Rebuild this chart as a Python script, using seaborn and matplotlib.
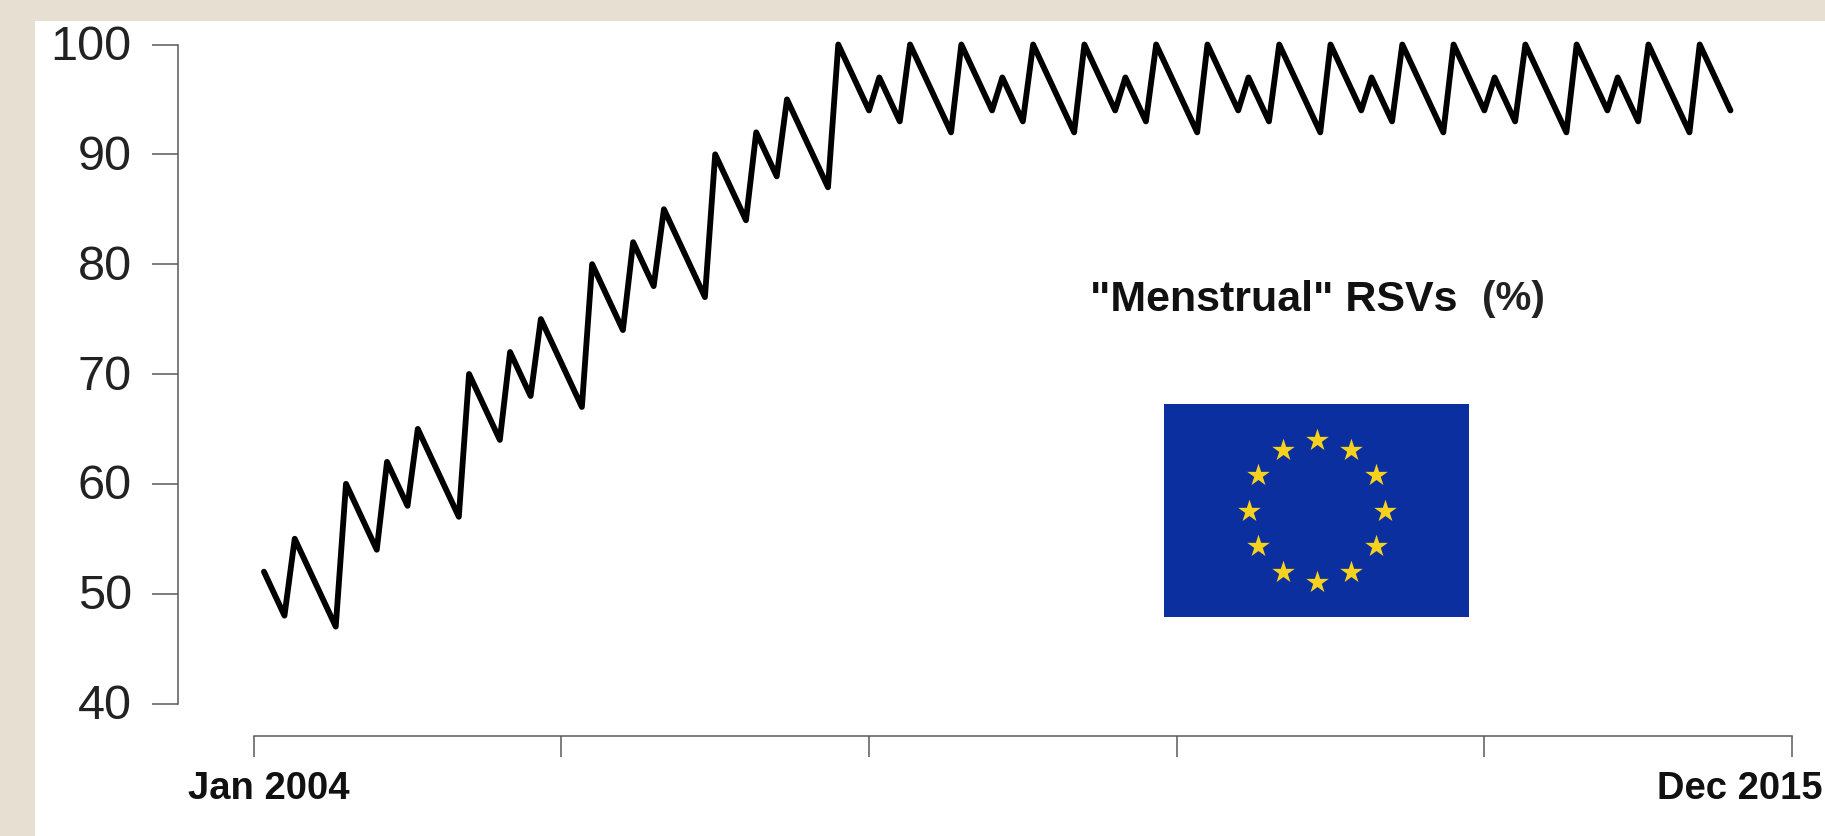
import numpy as np
import pandas as pd
import matplotlib
matplotlib.use("Agg")
import matplotlib.pyplot as plt
from matplotlib.patches import Rectangle
from matplotlib.transforms import ScaledTranslation
import seaborn as sns

months = [1, 3, 4, 8,
          9, 12, 13, 15, 16, 20,
          21, 24, 25, 27, 28, 32,
          33, 36, 37, 39, 40, 44,
          45, 48, 49, 51, 52, 56,
          57, 60, 61, 63, 64, 68,
          69, 72, 73, 75, 76, 80,
          81, 84, 85, 87, 88, 92,
          93, 96, 97, 99, 100, 104,
          105, 108, 109, 111, 112, 116,
          117, 120, 121, 123, 124, 128,
          129, 132, 133, 135, 136, 140,
          141, 144]
rsv_pct = [52, 48, 55, 47,
           60, 54, 62, 58, 65, 57,
           70, 64, 72, 68, 75, 67,
           80, 74, 82, 78, 85, 77,
           90, 84, 92, 88, 95, 87,
           100, 94, 97, 93, 100, 92,
           100, 94, 97, 93, 100, 92,
           100, 94, 97, 93, 100, 92,
           100, 94, 97, 93, 100, 92,
           100, 94, 97, 93, 100, 92,
           100, 94, 97, 93, 100, 92,
           100, 94, 97, 93, 100, 92,
           100, 94]
y_ticks = [40, 50, 60, 70, 80, 90, 100]
x_ticks = [0, 30, 60, 90, 120, 150]
x_tick_labels = ["Jan 2004", "", "", "", "", "Dec 2015"]
title_text = '"Menstrual" RSVs'
unit_text = "(%)"

W, H = 1825, 836
BG = "#e8dfd3"
AXIS = "#5a5a5a"

sns.set_theme(style="ticks")
plt.rcParams["font.family"] = ["Liberation Sans", "DejaVu Sans"]

fig = plt.figure(figsize=(W / 100, H / 100), dpi=100, facecolor=BG)
fig.add_artist(Rectangle((35 / W, 0), 1 - 35 / W, 1 - 21 / H, transform=fig.transFigure,
                         facecolor="white", edgecolor="none", zorder=-5))


def rect(x0, y0, x1, y1):
    return [x0 / W, 1 - y1 / H, (x1 - x0) / W, (y1 - y0) / H]


ax = fig.add_axes(rect(253.7, 44.5, 1792, 703.5))
ax.patch.set_alpha(0)

df = pd.DataFrame({"month": months, "pct": rsv_pct})
sns.lineplot(data=df, x="month", y="pct", ax=ax, color="black", linewidth=4.2,
             estimator=None, sort=False, solid_joinstyle="round", solid_capstyle="round",
             clip_on=False)

ax.set_xlim(0, 150)
ax.set_ylim(40, 100)
ax.set_xlabel("")
ax.set_ylabel("")
ax.set_yticks(y_ticks)
ax.set_xticks(x_ticks)
ax.tick_params(axis="y", length=19, width=1.1, color=AXIS, pad=14, labelsize=35, labelcolor="#222222")
ax.tick_params(axis="x", length=15, width=1.1, color=AXIS, pad=10, labelsize=27.5, labelcolor="#111111")
ax.set_xticklabels(x_tick_labels)

sns.despine(ax=ax, offset={"left": (253.7 - 177.5) * 0.72, "bottom": (736 - 703.5) * 0.72})
for side in ("left", "bottom"):
    ax.spines[side].set_color(AXIS)
    ax.spines[side].set_linewidth(1.1)

shifts = [15, 0, 0, 0, 0, -52]
for lab, dx in zip(ax.get_xticklabels(), shifts):
    lab.set_fontweight("bold")
    lab.set_transform(lab.get_transform() + ScaledTranslation(dx / 100, 0, fig.dpi_scale_trans))
for lab in ax.get_yticklabels():
    lab.set_transform(lab.get_transform() + ScaledTranslation(0, 2 / 100, fig.dpi_scale_trans))

fig.text(1090 / W, 1 - 311 / H, title_text, fontsize=31, fontweight="bold", color="#111111",
         ha="left", va="baseline")
fig.text(1482 / W, 1 - 310 / H, unit_text, fontsize=29, fontweight="bold", color="#222222",
         ha="left", va="baseline")

# EU flag
flag = fig.add_axes(rect(1164, 404, 1469, 617), facecolor="#0b2f9e")
flag.set_xlim(1164, 1469)
flag.set_ylim(617, 404)
flag.set_xticks([])
flag.set_yticks([])
for s in flag.spines.values():
    s.set_visible(False)
angles = np.deg2rad(np.arange(0, 360, 30))
flag.scatter(1316.7 + 68 * np.sin(angles), 511 - 71 * np.cos(angles), marker="*", s=290,
             color="#f6d21f", linewidths=0, clip_on=False)

fig.savefig("out.png", dpi=100, facecolor=BG)
